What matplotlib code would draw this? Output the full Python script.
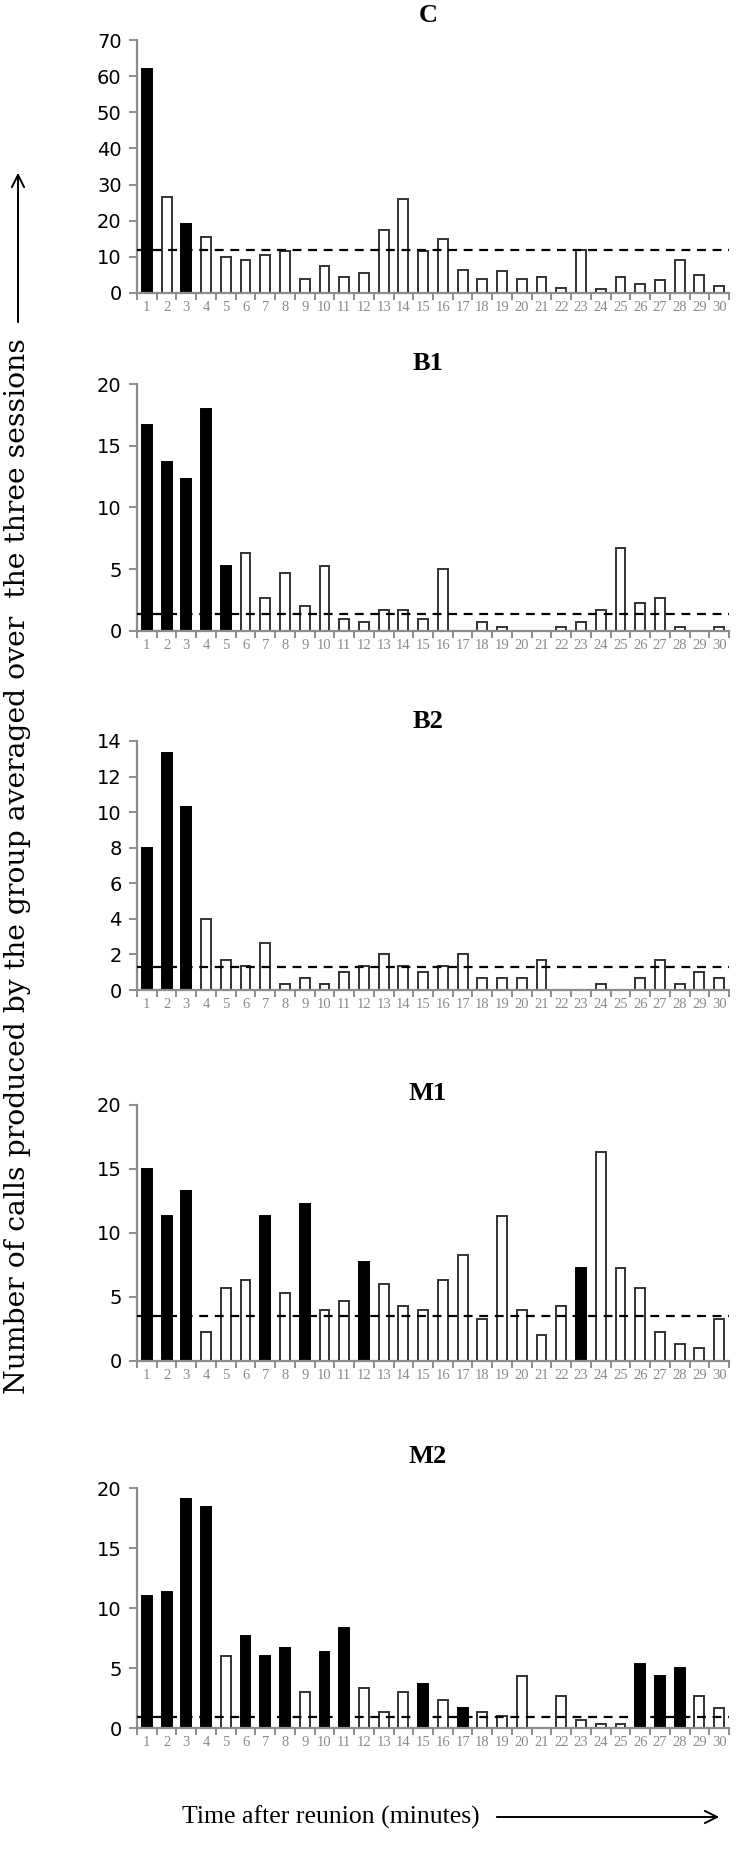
import matplotlib
matplotlib.use("Agg")
import matplotlib.pyplot as plt
import numpy as np

minutes = list(range(1, 31))

titles = ["C", "B1", "B2", "M1", "M2"]

vals_C = [62, 26.5, 19, 15.5, 10, 9, 10.5, 11.5, 4, 7.5, 4.5, 5.5, 17.5, 26, 11.5,
          15, 6.5, 4, 6, 4, 4.5, 1.5, 12, 1, 4.5, 2.5, 3.5, 9, 5, 2]
vals_B1 = [16.7, 13.7, 12.3, 18, 5.3, 6.3, 2.7, 4.7, 2, 5.3, 1, 0.7, 1.7, 1.7, 1,
           5, 0, 0.7, 0.3, 0, 0, 0.3, 0.7, 1.7, 6.7, 2.3, 2.7, 0.3, 0, 0.3]
vals_B2 = [8, 13.3, 10.3, 4, 1.67, 1.33, 2.67, 0.33, 0.67, 0.33, 1, 1.33, 2, 1.33, 1,
           1.33, 2, 0.67, 0.67, 0.67, 1.67, 0, 0, 0.33, 0, 0.67, 1.67, 0.33, 1, 0.67]
vals_M1 = [15, 11.3, 13.3, 2.3, 5.7, 6.3, 11.3, 5.3, 12.3, 4, 4.7, 7.7, 6, 4.3, 4,
           6.3, 8.3, 3.3, 11.3, 4, 2, 4.3, 7.3, 16.3, 7.3, 5.7, 2.3, 1.3, 1, 3.3]
vals_M2 = [11, 11.3, 19.1, 18.4, 6, 7.7, 6, 6.7, 3, 6.3, 8.3, 3.3, 1.3, 3, 3.7,
           2.3, 1.7, 1.3, 1, 4.3, 0, 2.7, 0.7, 0.3, 0.3, 5.3, 4.3, 5, 2.7, 1.7]

black_C = [1, 3]
black_B1 = [1, 2, 3, 4, 5]
black_B2 = [1, 2, 3]
black_M1 = [1, 2, 3, 7, 9, 12, 23]
black_M2 = [1, 2, 3, 4, 6, 7, 8, 10, 11, 15, 17, 26, 27, 28]

mean_C = 12
mean_B1 = 1.35
mean_B2 = 1.3
mean_M1 = 3.5
mean_M2 = 0.9

ymax = [70, 20, 14, 20, 20]
ystep = [10, 5, 2, 5, 5]

ylabel = "Number of calls produced by the group averaged over  the three sessions"
xlabel = "Time after reunion (minutes)"

series = [vals_C, vals_B1, vals_B2, vals_M1, vals_M2]
blacks = [black_C, black_B1, black_B2, black_M1, black_M2]
means = [mean_C, mean_B1, mean_B2, mean_M1, mean_M2]

W, H = 737, 1860
fig = plt.figure(figsize=(W / 100, H / 100), dpi=100)

# pixel layout (top of y-range, zero line)
tops = [40, 384, 741, 1105, 1488]
bots = [293, 631, 990, 1361, 1728]
title_y = [16, 363, 721, 1093, 1456]
left_px, right_px = 137, 729

serif = ["Liberation Serif", "DejaVu Serif"]
spine_col = "#8c8c8c"

for i in range(5):
    ax = fig.add_axes([left_px / W, 1 - bots[i] / H, (right_px - left_px) / W,
                       (bots[i] - tops[i]) / H])
    x = np.arange(len(minutes))
    vals = series[i]
    colors = ["black" if m in blacks[i] else "white" for m in minutes]
    edges = ["black" if m in blacks[i] else "#333333" for m in minutes]
    ax.bar(x, vals, width=0.5, color=colors, edgecolor=edges, linewidth=1.4, zorder=2)
    ax.axhline(means[i], color="black", linestyle=(0, (4, 3)), linewidth=1.6, zorder=3)
    ax.set_xlim(-0.5, len(minutes) - 0.5)
    ax.set_ylim(0, ymax[i])
    ticks = np.arange(0, ymax[i] + 0.01, ystep[i])
    ax.set_yticks(ticks)
    ax.set_yticklabels([str(int(v)) for v in ticks], fontsize=14, family="DejaVu Sans")
    ax.set_xticks(x)
    ax.set_xticklabels([str(m) for m in minutes], fontsize=10.5, family=serif, color="#8a8a8a")
    ax.set_xticks(np.arange(-0.5, len(minutes), 1), minor=True)
    ax.tick_params(axis="x", which="major", length=0, pad=6)
    ax.tick_params(axis="x", which="minor", length=5, width=1.4, color=spine_col, direction="out")
    ax.tick_params(axis="y", which="major", length=6, width=1.4, color=spine_col, direction="out", pad=5)
    for s in ["top", "right"]:
        ax.spines[s].set_visible(False)
    for s in ["left", "bottom"]:
        ax.spines[s].set_color(spine_col)
        ax.spines[s].set_linewidth(1.6)
    ax.patch.set_alpha(0)
    fig.text(428 / W, 1 - title_y[i] / H, titles[i], ha="center", va="center",
             fontsize=19, fontweight="bold", family=serif)

# y label with arrow
fig.text(18 / W, 1 - 866 / H, ylabel, rotation=90, ha="center", va="center",
         fontsize=20.3, family=["DejaVu Serif"])
fig.add_artist(matplotlib.patches.FancyArrowPatch((18 / W, 1 - 325 / H), (18 / W, 1 - 170 / H),
               transform=fig.transFigure, arrowstyle="->", mutation_scale=22, linewidth=1.4, color="black"))

# x label with arrow
fig.text(182 / W, 1 - 1817 / H, xlabel, ha="left", va="center", fontsize=18.5, family=serif)
fig.add_artist(matplotlib.patches.FancyArrowPatch((494 / W, 1 - 1817 / H), (722 / W, 1 - 1817 / H),
               transform=fig.transFigure, arrowstyle="->", mutation_scale=22, linewidth=1.4, color="black"))

fig.savefig("out.png", dpi=100)
